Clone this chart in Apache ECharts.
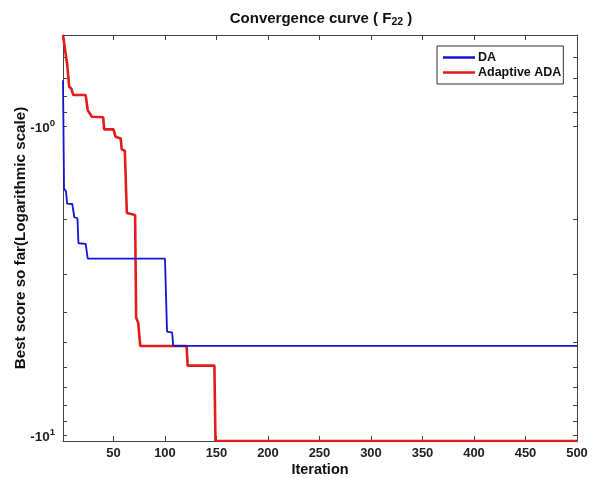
<!DOCTYPE html>
<html>
<head>
<meta charset="utf-8">
<script src="https://cdn.jsdelivr.net/npm/echarts@6/dist/echarts.min.js"></script>
<style>
  html, body { margin: 0; padding: 0; background: #fff; }
  #chart { width: 596px; height: 484px; }
</style>
</head>
<body>
<div id="chart"></div>
<script>
// best score so far (iteration, score)
const daIter = [1, 2, 4, 5, 10, 12, 15, 16, 23, 25, 100, 102, 107, 108, 500];
const daScore = [-0.711, -1.59, -1.63, -1.78, -1.785, -1.97, -1.985, -2.39, -2.40, -2.68, -2.68, -4.61, -4.65, -5.13, -5.13];

const adaIter = [1, 5, 7, 9, 11, 23, 25, 29, 40, 41, 50, 52, 57, 58, 61, 63, 71, 72, 74, 76, 121, 122, 148, 149, 500];
const adaScore = [-0.508, -0.63, -0.747, -0.756, -0.794, -0.794, -0.888, -0.933, -0.937, -1.025, -1.025, -1.083, -1.096,
  -1.189, -1.201, -1.909, -1.937, -4.16, -4.32, -5.13, -5.13, -5.94, -5.94, -10.4029, -10.4029];

const xTicks = [50, 100, 150, 200, 250, 300, 350, 400, 450, 500];
const yMinorTicks = [0.6, 0.7, 0.8, 0.9, 1, 2, 3, 4, 5, 6, 7, 8, 9, 10];

const FONT = "'Liberation Sans', Arial, sans-serif";

// log axis works on |score|, labels put the minus sign back
const toLog = (iters, scores) => iters.map((it, i) => [it, -scores[i]]);

const chart = echarts.init(document.getElementById("chart"));

const axisLine = { lineStyle: { color: "#444", width: 1 } };

function yLabel(v) {
  const e = Math.round(Math.log10(v));
  if (Math.abs(Math.log10(v) - e) > 1e-3) return "";
  return "{b|-10}{sup|" + e + "}";
}

const option = {
  animation: false,
  backgroundColor: "#fff",
  title: {
    text: "Convergence curve ( F{sub|22} )",
    left: 316,
    textAlign: "center",
    top: 4,
    textStyle: {
      fontFamily: FONT,
      fontSize: 15,
      fontWeight: "bold",
      color: "#111",
      rich: {
        sub: { fontFamily: FONT, fontSize: 10.5, fontWeight: "bold", color: "#111", padding: [8, 0, 0, 0] },
      },
    },
  },
  legend: {
    orient: "vertical",
    left: 437,
    top: 46,
    padding: [5, 2, 5, 6],
    icon: "rect",
    itemWidth: 32,
    itemHeight: 2.5,
    itemGap: 2,
    borderColor: "#333",
    borderWidth: 1,
    borderRadius: 0,
    backgroundColor: "#fff",
    textStyle: { fontFamily: FONT, fontSize: 12.5, fontWeight: "bold", color: "#111", padding: [0, 0, 0, -2] },
    data: ["DA", "Adaptive ADA"],
  },
  grid: { left: 63, right: 19, top: 35, bottom: 43, outerBoundsMode: "none", containLabel: false },
  xAxis: [
    {
      type: "value",
      min: 1,
      max: 500,
      position: "bottom",
      axisLine: axisLine,
      axisTick: { inside: true, length: 5, customValues: xTicks, lineStyle: { color: "#444" } },
      axisLabel: { customValues: xTicks, fontFamily: FONT, fontSize: 13, fontWeight: "bold", color: "#222", margin: 6 },
      splitLine: { show: false },
      name: "Iteration",
      nameLocation: "middle",
      nameGap: 21,
      nameMoveOverlap: false,
      nameTextStyle: { fontFamily: FONT, fontSize: 14.5, fontWeight: "bold", color: "#111" },
    },
    {
      type: "value",
      min: 1,
      max: 500,
      position: "top",
      axisLine: axisLine,
      axisTick: { inside: true, length: 5, customValues: xTicks, lineStyle: { color: "#444" } },
      axisLabel: { show: false },
      splitLine: { show: false },
    },
  ],
  yAxis: [
    {
      type: "log",
      logBase: 10,
      inverse: true,
      min: 0.508,
      max: 10.4029,
      position: "left",
      axisLine: axisLine,
      axisTick: { inside: true, length: 4, customValues: yMinorTicks, lineStyle: { color: "#444" } },
      axisLabel: {
        formatter: yLabel,
        margin: 8,
        rich: {
          b: { fontFamily: FONT, fontSize: 13.5, fontWeight: "bold", color: "#222", padding: [4, 0, 0, 0] },
          sup: { fontFamily: FONT, fontSize: 9.5, fontWeight: "bold", color: "#222", padding: [0, 0, 6, 0] },
        },
      },
      splitLine: { show: false },
      name: "Best score so far(Logarithmic scale)",
      nameLocation: "middle",
      nameGap: 35,
      nameMoveOverlap: false,
      nameTextStyle: { fontFamily: FONT, fontSize: 15.2, fontWeight: "bold", color: "#111" },
    },
    {
      type: "log",
      logBase: 10,
      inverse: true,
      min: 0.508,
      max: 10.4029,
      position: "right",
      axisLine: axisLine,
      axisTick: { inside: true, length: 4, customValues: yMinorTicks, lineStyle: { color: "#444" } },
      axisLabel: { show: false },
      splitLine: { show: false },
    },
  ],
  series: [
    {
      name: "DA",
      type: "line",
      symbol: "none",
      xAxisIndex: 0,
      yAxisIndex: 0,
      lineStyle: { color: "#1414d2", width: 1.8 },
      itemStyle: { color: "#1414d2" },
      data: toLog(daIter, daScore),
      z: 3,
    },
    {
      name: "Adaptive ADA",
      type: "line",
      symbol: "none",
      xAxisIndex: 0,
      yAxisIndex: 0,
      lineStyle: { color: "#e41b1b", width: 2.6 },
      itemStyle: { color: "#e41b1b" },
      data: toLog(adaIter, adaScore),
      z: 2,
    },
  ],
};

chart.setOption(option);
</script>
</body>
</html>
